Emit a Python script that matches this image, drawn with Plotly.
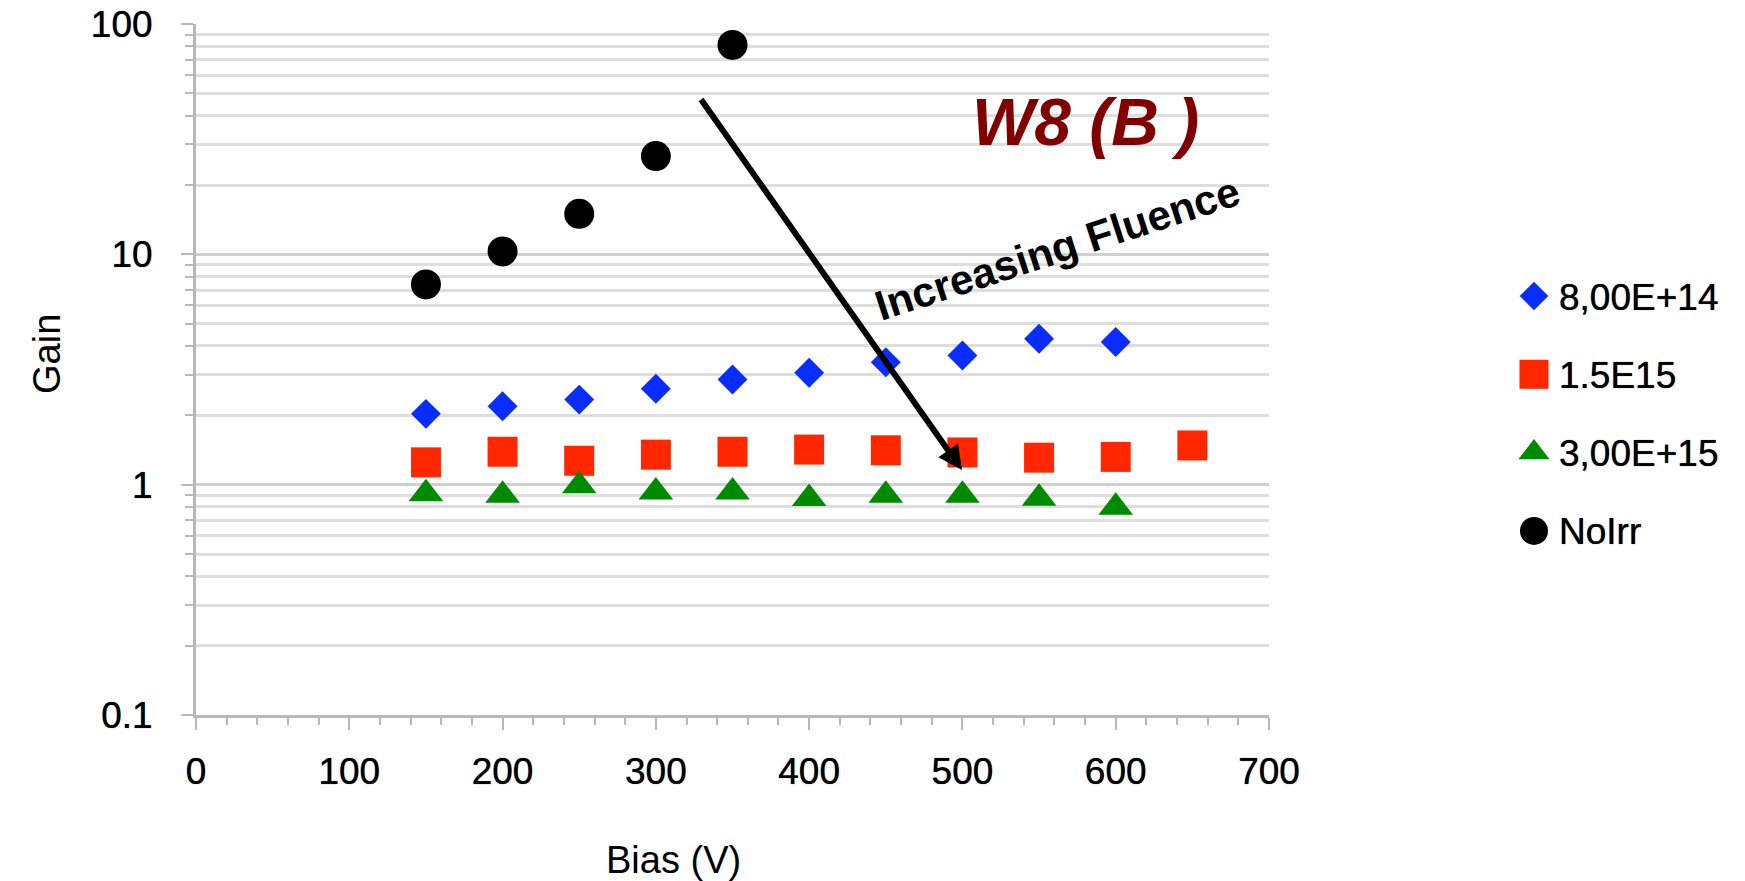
import plotly.graph_objects as go

# Bias voltage (V) and measured gain per fluence
bias_800e14 = [150, 200, 250, 300, 350, 400, 450, 500, 550, 600]
gain_800e14 = [2.03, 2.19, 2.34, 2.61, 2.86, 3.06, 3.40, 3.64, 4.30, 4.16]

bias_15e15 = [150, 200, 250, 300, 350, 400, 450, 500, 550, 600, 650]
gain_15e15 = [1.25, 1.39, 1.27, 1.35, 1.39, 1.42, 1.41, 1.38, 1.31, 1.32, 1.48]

bias_3e15 = [150, 200, 250, 300, 350, 400, 450, 500, 550, 600]
gain_3e15 = [0.914, 0.899, 0.99, 0.929, 0.929, 0.87, 0.899, 0.899, 0.872, 0.797]

bias_noirr = [150, 200, 250, 300, 350]
gain_noirr = [7.40, 10.3, 15.0, 26.7, 81.1]

series_names = ["8,00E+14", "1.5E15", "3,00E+15", "NoIrr"]

y_major = [0.1, 1, 10, 100]
y_major_text = ["0.1", "1", "10", "100"]
y_minor = [m * d for d in (0.1, 1, 10) for m in range(2, 10)]

FONT = "Liberation Sans"
GRID = "#dedede"
AXIS = "#b8b8b8"
HEAVY = "0px 0px 0.8px rgba(0,0,0,0.9)"

symbols = ["diamond", "square", "triangle-up", "circle"]
colors = ["#0a2dff", "#ff2600", "#008a00", "#000000"]
plot_sizes = [23, 30, 30, 30]
key_sizes = [22, 29, 27, 28]

data = [
    (bias_800e14, gain_800e14),
    (bias_15e15, gain_15e15),
    (bias_3e15, gain_3e15),
    (bias_noirr, gain_noirr),
]

# Figure geometry (pixels)
W, H = 1745, 881
ML, MR, MT, MB = 196, 0, 24, 166
PW, PH = W - ML - MR, H - MT - MB
PLOT_RIGHT = 1269          # right edge of the data area
KEY_LEFT_FRAC = 0.75       # key axes start (fraction of the area right of ML)
KEY_LEFT = ML + KEY_LEFT_FRAC * PW

fig = go.Figure()

for name, (xs, ys), sym, col, size in zip(series_names, data, symbols, colors, plot_sizes):
    fig.add_trace(go.Scatter(
        x=xs, y=ys, mode="markers", name=name, showlegend=False,
        marker=dict(symbol=sym, color=col, size=size, opacity=1, line=dict(width=0)),
    ))

# Series key on helper axes whose units are page pixels
KEY_MARK_PX, KEY_TEXT_PX, KEY_TOP_PX, KEY_STEP_PX = 1534, 1557, 296, 78.3
key_py = [KEY_TOP_PX + KEY_STEP_PX * i for i in range(len(series_names))]
fig.add_trace(go.Scatter(
    x=[KEY_MARK_PX] * len(key_py), y=key_py,
    mode="markers", showlegend=False, hoverinfo="skip",
    xaxis="x2", yaxis="y2",
    marker=dict(symbol=symbols, color=colors, size=key_sizes, opacity=1, line=dict(width=0)),
))
for p, name in zip(key_py, series_names):
    fig.add_annotation(text=name, xref="x2", yref="y2", x=KEY_TEXT_PX, y=p + 1,
                       xanchor="left", yanchor="middle", showarrow=False,
                       font=dict(family=FONT, size=37, color="black", shadow=HEAVY))

fig.update_layout(
    width=W, height=H,
    margin=dict(l=ML, r=MR, t=MT, b=MB, autoexpand=False),
    paper_bgcolor="white", plot_bgcolor="white",
    font=dict(family=FONT, size=37, color="black"),
    showlegend=False,
    xaxis=dict(
        domain=[0, (PLOT_RIGHT - ML) / PW],
        range=[0, 700], dtick=100, tick0=0,
        showgrid=False, zeroline=False,
        showline=True, linecolor=AXIS, linewidth=3,
        ticks="outside", ticklen=12, tickwidth=2, tickcolor=AXIS,
        ticklabelstandoff=10,
        tickfont=dict(family=FONT, size=37, color="black", shadow=HEAVY),
        minor=dict(dtick=20, ticks="outside", ticklen=7, tickwidth=2, tickcolor=AXIS, showgrid=False),
    ),
    yaxis=dict(
        domain=[0, 1],
        type="log", range=[-1, 2],
        tickvals=y_major, ticktext=y_major_text,
        showgrid=True, gridcolor="#d0d0d0", gridwidth=2.5,
        zeroline=False,
        showline=True, linecolor=AXIS, linewidth=3,
        ticks="outside", ticklen=12, tickwidth=2, tickcolor=AXIS,
        ticklabelstandoff=21,
        tickfont=dict(family=FONT, size=37, color="black", shadow=HEAVY),
        minor=dict(tickvals=y_minor, ticks="outside", ticklen=8, tickwidth=2, tickcolor=AXIS,
                   showgrid=True, gridcolor=GRID, gridwidth=2.5),
    ),
    xaxis2=dict(domain=[KEY_LEFT_FRAC, 1.0], range=[KEY_LEFT, W], anchor="y2",
                visible=False, fixedrange=True),
    yaxis2=dict(domain=[0, 1], range=[H - MB, MT], anchor="x2",
                visible=False, fixedrange=True),
)

# Axis titles placed as free annotations
fig.add_annotation(text="Gain", xref="paper", yref="paper", x=(47 - ML) / PW, y=(H - MB - 354) / PH,
                   xanchor="center", yanchor="middle", textangle=-90, showarrow=False,
                   font=dict(family=FONT, size=38, color="black"))
fig.add_annotation(text="Bias (V)", xref="paper", yref="paper", x=(673 - ML) / PW, y=(H - MB - 860) / PH,
                   xanchor="center", yanchor="middle", showarrow=False,
                   font=dict(family=FONT, size=38, color="black"))

# Sample label
fig.add_annotation(text="<b><i>W8 (B )</i></b>", xref="paper", yref="paper",
                   x=(1085 - ML) / PW, y=(H - MB - 122) / PH,
                   xanchor="center", yanchor="middle", showarrow=False,
                   font=dict(family=FONT, size=66, color="#800000"))

# Fluence trend arrow and its label
fig.add_annotation(text="", xref="paper", yref="paper",
                   x=(962 - ML) / PW, y=(H - MB - 470) / PH,
                   axref="pixel", ayref="pixel", ax=700 - 962, ay=98 - 470,
                   showarrow=True, arrowhead=2, arrowsize=0.8, arrowwidth=6,
                   arrowcolor="black", standoff=0)
fig.add_annotation(text="<b>Increasing Fluence</b>", xref="paper", yref="paper",
                   x=(1057 - ML) / PW, y=(H - MB - 248) / PH,
                   xanchor="center", yanchor="middle", textangle=-18, showarrow=False,
                   font=dict(family=FONT, size=42, color="black"))

fig.write_html("out.html")
